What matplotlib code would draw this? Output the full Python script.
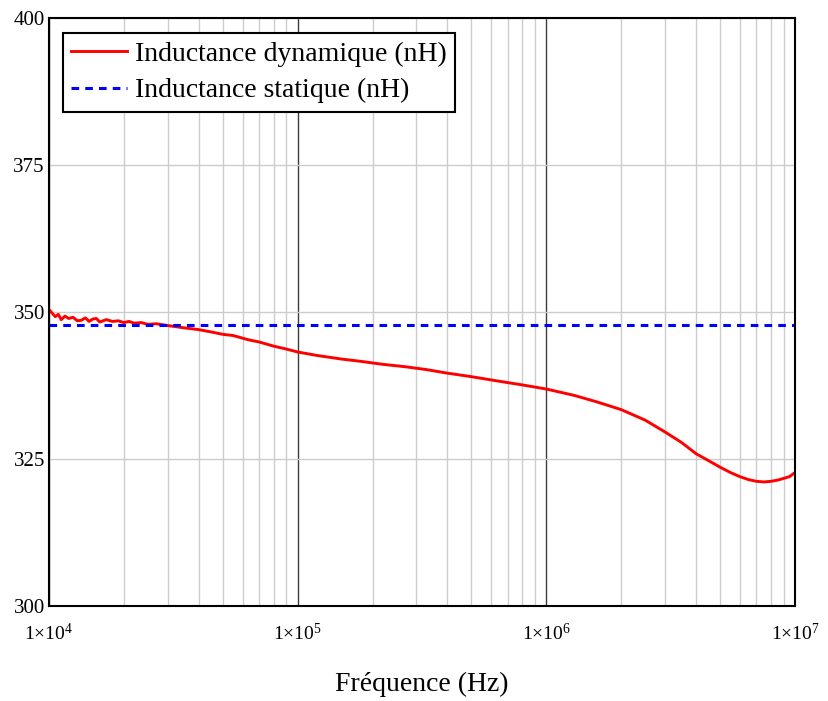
import matplotlib
matplotlib.use("Agg")
import matplotlib.pyplot as plt
from matplotlib.ticker import FixedLocator, LogLocator, NullFormatter, FixedFormatter

plt.rcParams['font.family'] = ['Liberation Serif', 'DejaVu Serif']
plt.rcParams['mathtext.fontset'] = 'custom'
plt.rcParams['mathtext.rm'] = 'Liberation Serif'
plt.rcParams['mathtext.it'] = 'Liberation Serif:italic'

# Data
freq = [1.0e4, 1.03e4, 1.06e4, 1.09e4, 1.12e4, 1.16e4, 1.2e4, 1.25e4, 1.3e4, 1.35e4,
        1.4e4, 1.45e4, 1.5e4, 1.55e4, 1.6e4, 1.7e4, 1.8e4, 1.9e4, 2.0e4, 2.1e4,
        2.2e4, 2.35e4, 2.5e4, 2.7e4, 3.0e4, 3.5e4, 4.0e4, 4.5e4, 5.0e4, 5.5e4,
        6.3e4, 7.0e4, 8.0e4, 9.0e4, 1.0e5, 1.2e5, 1.5e5, 1.8e5, 2.2e5, 2.7e5,
        3.3e5, 4.0e5, 5.0e5, 6.3e5, 8.0e5, 1.0e6, 1.3e6, 1.6e6, 2.0e6, 2.5e6,
        3.0e6, 3.5e6, 4.0e6, 4.5e6, 5.0e6, 5.5e6, 6.0e6, 6.5e6, 7.0e6, 7.5e6,
        8.0e6, 8.5e6, 9.0e6, 9.5e6, 1.0e7]
l_dyn = [350.4, 349.8, 349.2, 349.6, 348.7, 349.3, 348.9, 349.1, 348.5, 348.6,
         349.0, 348.4, 348.8, 348.9, 348.3, 348.7, 348.4, 348.5, 348.2, 348.4,
         348.1, 348.2, 347.9, 348.0, 347.7, 347.3, 347.0, 346.6, 346.2, 346.0,
         345.3, 344.9, 344.2, 343.7, 343.2, 342.6, 342.0, 341.6, 341.1, 340.7,
         340.2, 339.6, 339.0, 338.3, 337.6, 336.9, 335.8, 334.7, 333.4, 331.6,
         329.6, 327.8, 325.9, 324.7, 323.6, 322.7, 322.0, 321.5, 321.2, 321.1,
         321.2, 321.4, 321.7, 322.0, 322.7]
l_stat = 347.8

x_ticks = [1e4, 1e5, 1e6, 1e7]
x_labels = [r'$\mathrm{1{\times}10^{4}}$', r'$\mathrm{1{\times}10^{5}}$',
            r'$\mathrm{1{\times}10^{6}}$', r'$\mathrm{1{\times}10^{7}}$']
y_ticks = [300, 325, 350, 375, 400]

fig = plt.figure(figsize=(8.29, 7.01), dpi=100)
ax = fig.add_axes([49/829, 1-606/701, (795-49)/829, (606-18)/701])

ax.set_xscale('log')
ax.set_xlim(1e4, 1e7)
ax.set_ylim(300, 400)

ax.xaxis.set_major_locator(FixedLocator(x_ticks))
ax.xaxis.set_major_formatter(FixedFormatter(x_labels))
ax.xaxis.set_minor_locator(LogLocator(base=10, subs=range(2, 10)))
ax.xaxis.set_minor_formatter(NullFormatter())
ax.set_yticks(y_ticks)
ax.set_yticklabels([str(v) for v in y_ticks])

ax.grid(which='major', axis='x', color='#3c3c3c', linewidth=1.0)
ax.grid(which='minor', axis='x', color='#cccccc', linewidth=1.0)
ax.grid(which='major', axis='y', color='#cccccc', linewidth=1.0)
ax.set_axisbelow(True)

ax.plot(freq, l_dyn, color='#ff0000', linewidth=2.1, label='Inductance dynamique (nH)')
ax.plot([freq[0], freq[-1]], [l_stat, l_stat], color='#0000ff', linewidth=2.2,
        linestyle=(0, (2.5, 2.0)), label='Inductance statique (nH)')

ax.tick_params(which='both', length=0)
ax.tick_params(axis='y', labelsize=15, pad=3)
ax.tick_params(axis='x', labelsize=14, pad=12)
for s in ax.spines.values():
    s.set_linewidth(1.5)
    s.set_color('black')

ax.set_xlabel('Fréquence (Hz)', fontsize=20, labelpad=20)

leg = ax.legend(loc='upper left', bbox_to_anchor=(14/746, 1-15/588), fontsize=20,
                frameon=True, fancybox=False, handlelength=2.0, borderpad=0.3,
                labelspacing=0.4, handletextpad=0.3, borderaxespad=0.0)
leg.get_frame().set_edgecolor('black')
leg.get_frame().set_linewidth(1.5)
leg.get_frame().set_alpha(1.0)

fig.savefig('out.png', dpi=100)
